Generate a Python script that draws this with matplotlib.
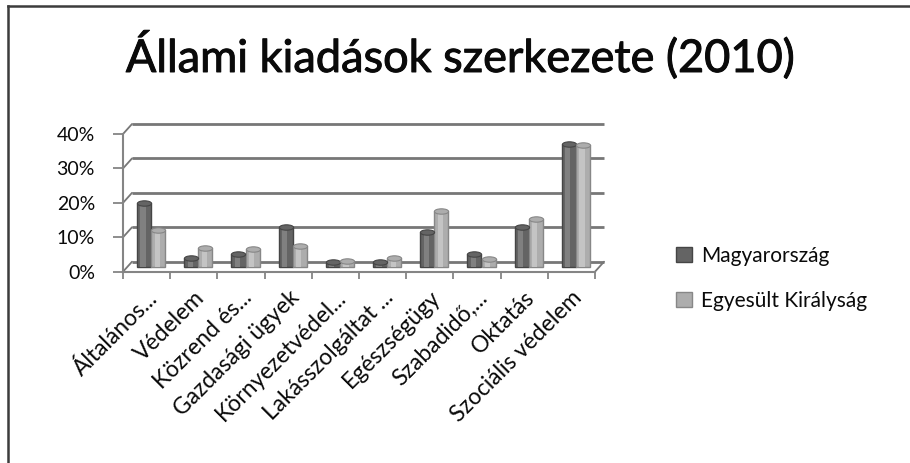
import matplotlib
matplotlib.use("Agg")
import matplotlib.pyplot as plt
import matplotlib.patheffects as pe
import numpy as np
from matplotlib.transforms import ScaledTranslation, Affine2D
from matplotlib.patches import ConnectionPatch
from matplotlib.lines import Line2D
from matplotlib.path import Path

# ---- data -----------------------------------------------------------------
categories = [
    "Általános...", "Védelem", "Közrend és...", "Gazdasági ügyek",
    "Környezetvédel...", "Lakásszolgáltat ...", "Egészségügy",
    "Szabadidő,...", "Oktatás", "Szociális védelem",
]
hungary = [18.6, 2.5, 3.7, 11.5, 1.4, 1.3, 10.0, 3.6, 11.4, 35.7]
uk = [10.7, 5.3, 5.0, 6.0, 1.8, 2.5, 16.3, 2.1, 13.8, 35.4]
series_names = ["Magyarország", "Egyesült Királyság"]
y_ticks = [0, 10, 20, 30, 40]
y_tick_labels = [f"{t}%" for t in y_ticks]
title = "Állami kiadások szerkezete (2010)"

# ---- figure ---------------------------------------------------------------
W, H, DPI = 910, 463, 100
plt.rcParams["font.family"] = ["Lato", "DejaVu Sans"]
fig = plt.figure(figsize=(W / DPI, H / DPI), dpi=DPI, facecolor="white")

text_col = "#0a0a0a"
title_stroke = [pe.withStroke(linewidth=0.7, foreground=text_col)]

# plot area (front plane) in pixels
left, right, bottom, top = 123, 595, 271.7, 134
ax = fig.add_axes([left / W, 1 - bottom / H, (right - left) / W, (bottom - top) / H])
ax.set_xlim(0, len(categories))
ax.set_ylim(0, 40)
ax.patch.set_visible(False)

# depth offsets for the pseudo-3D look (back wall and mid-depth for bars)
DX, DY = 9, 10
back = ax.transData + ScaledTranslation(DX / DPI, DY / DPI, fig.dpi_scale_trans)
mid = ax.transData + ScaledTranslation(DX / 2 / DPI, DY / 2 / DPI, fig.dpi_scale_trans)

grid_col = "#777777"
axis_col = "#858585"

# back-wall gridlines plus the side-wall diagonals
n = len(categories)
for t in y_ticks:
    ax.plot([0, n], [t, t], transform=back, color=grid_col, lw=2.0,
            clip_on=False, zorder=1, solid_capstyle="butt")
    ax.add_artist(ConnectionPatch(xyA=(0, t), coordsA=ax.transData,
                                  xyB=(0, t), coordsB=back,
                                  color=grid_col, lw=1.3, zorder=1))
# floor right edge
ax.add_artist(ConnectionPatch(xyA=(n, 0), coordsA=ax.transData,
                              xyB=(n, 0), coordsB=back,
                              color=grid_col, lw=1.3, zorder=1))

# ---- bars (cylinder-like shading with rounded tops) --------------------------
x = np.arange(n) + 0.5
w = 0.3
bar_pt = w * (right - left) / n * 72 / DPI     # bar width in points
cap = Path.unit_circle().transformed(Affine2D().scale(1, 0.38))


def cylinder(xpos, values, body, edge, shine):
    bars = ax.bar(xpos, values, w, transform=mid, color=body, edgecolor=edge,
                  lw=1.0, clip_on=False, zorder=3)
    ax.bar(xpos - 0.02, values, 0.11, transform=mid, color=shine, lw=0,
           clip_on=False, zorder=4)
    ax.plot(xpos, values, ls="none", marker=cap, markersize=bar_pt,
            mfc=body, mec=edge, mew=0.8, transform=mid, clip_on=False, zorder=5)
    return bars


bars_hu = cylinder(x - w / 2, hungary, "#646464", "#454545", "#808080")
bars_uk = cylinder(x + w / 2, uk, "#adadad", "#878787", "#c4c4c4")

# ---- axes -------------------------------------------------------------------
for s in ("top", "right"):
    ax.spines[s].set_visible(False)
for s in ("left", "bottom"):
    ax.spines[s].set_color(axis_col)
    ax.spines[s].set_linewidth(1.5)
    ax.spines[s].set_zorder(2)

ax.set_yticks(y_ticks, y_tick_labels)
ax.tick_params(axis="y", direction="out", length=7.2, width=1.3, color=axis_col,
               labelsize=14, pad=13, labelcolor=text_col)

ax.set_xticks(np.arange(n + 1), minor=True)
ax.set_xticks(x, categories)
ax.tick_params(axis="x", which="minor", direction="out", length=4.8, width=1.3,
               color=axis_col)
ax.tick_params(axis="x", which="major", length=0, labelsize=16.5, pad=11,
               labelcolor=text_col)
plt.setp(ax.get_xticklabels(), rotation=45, ha="right", va="top",
         rotation_mode="anchor")

# ---- title ------------------------------------------------------------------
fig.text(460 / W, 1 - 72 / H, title, ha="center", va="baseline", fontsize=32.5,
         color=text_col, path_effects=title_stroke)

# ---- legend -----------------------------------------------------------------
ax.legend([bars_hu, bars_uk], series_names, loc="center left",
          bbox_to_anchor=(676 / W, 1 - 278.5 / H), bbox_transform=fig.transFigure,
          frameon=False, fontsize=15, handlelength=0.75, handleheight=0.75,
          handletextpad=0.45, labelspacing=1.2, borderpad=0, borderaxespad=0,
          labelcolor=text_col)

# ---- chart border (left and top edges) ---------------------------------------
fig.add_artist(Line2D([7.5 / W, 7.5 / W], [0, 1 - 6 / H], transform=fig.transFigure,
                      color="#3c3c3c", lw=1.8))
fig.add_artist(Line2D([7.5 / W, 1], [1 - 6 / H, 1 - 6 / H], transform=fig.transFigure,
                      color="#3c3c3c", lw=1.8))

fig.savefig("out.png", dpi=DPI, facecolor="white")
